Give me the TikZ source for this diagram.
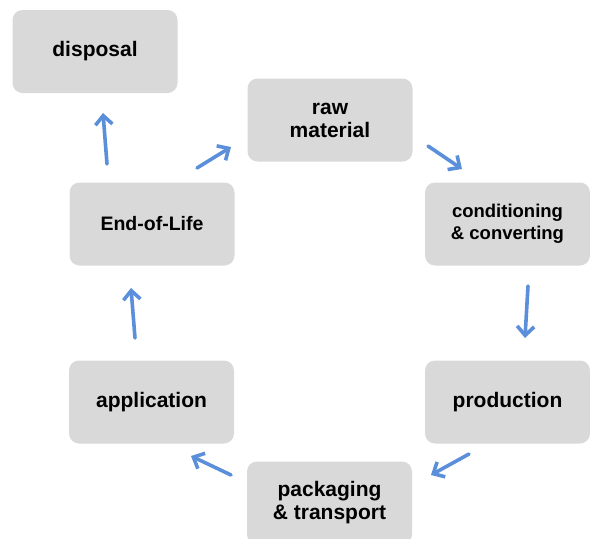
\documentclass[tikz,border=0pt]{standalone}
\usepackage{fontspec}
\setmainfont{Liberation Sans}
\usetikzlibrary{arrows.meta}
\definecolor{boxgray}{HTML}{D9D9D9}
\definecolor{flowblue}{HTML}{5B8FD9}
\begin{document}
\begin{tikzpicture}[x=1pt,y=-1pt,
  stage/.style={draw=none, fill=boxgray, rounded corners=10pt,
    minimum width=165pt, minimum height=83pt, align=center,
    font=\bfseries\fontsize{21}{23}\selectfont},
  flow/.style={draw=flowblue, line width=3.6pt, line cap=round,
    -{Straight Barb[length=9pt, width=17pt, line width=3.6pt]}}]
\useasboundingbox (0,0) rectangle (590,539);
% process stages
\node[stage] (disp) at (95,51.5) {disposal};
\node[stage] (raw) at (330,120) {raw\\material};
\node[stage, font=\bfseries\fontsize{18.5}{22}\selectfont] (cond) at (507.5,224) {conditioning\\\& converting};
\node[stage] (prod) at (507.5,402) {production};
\node[stage] (pack) at (329.5,503) {packaging\\\& transport};
\node[stage] (app) at (151.5,402) {application};
\node[stage, font=\bfseries\fontsize{19.5}{22}\selectfont] (eol) at (152,224) {End-of-Life};
% arrow end points between the stages
\coordinate (e1s) at (107,164); \coordinate (e1t) at (103,113);
\coordinate (e2s) at (197,168); \coordinate (e2t) at (231,147);
\coordinate (e3s) at (428,146); \coordinate (e3t) at (462,169);
\coordinate (e4s) at (528,286); \coordinate (e4t) at (525,338);
\coordinate (e5s) at (469,454); \coordinate (e5t) at (431,475);
\coordinate (e6s) at (231,475); \coordinate (e6t) at (191,456);
\coordinate (e7s) at (135,338); \coordinate (e7t) at (131,288);
% life-cycle flow
\draw[flow] (e1s) -- (e1t);
\draw[flow] (e2s) -- (e2t);
\draw[flow] (e3s) -- (e3t);
\draw[flow] (e4s) -- (e4t);
\draw[flow] (e5s) -- (e5t);
\draw[flow] (e6s) -- (e6t);
\draw[flow] (e7s) -- (e7t);
\end{tikzpicture}
\end{document}
